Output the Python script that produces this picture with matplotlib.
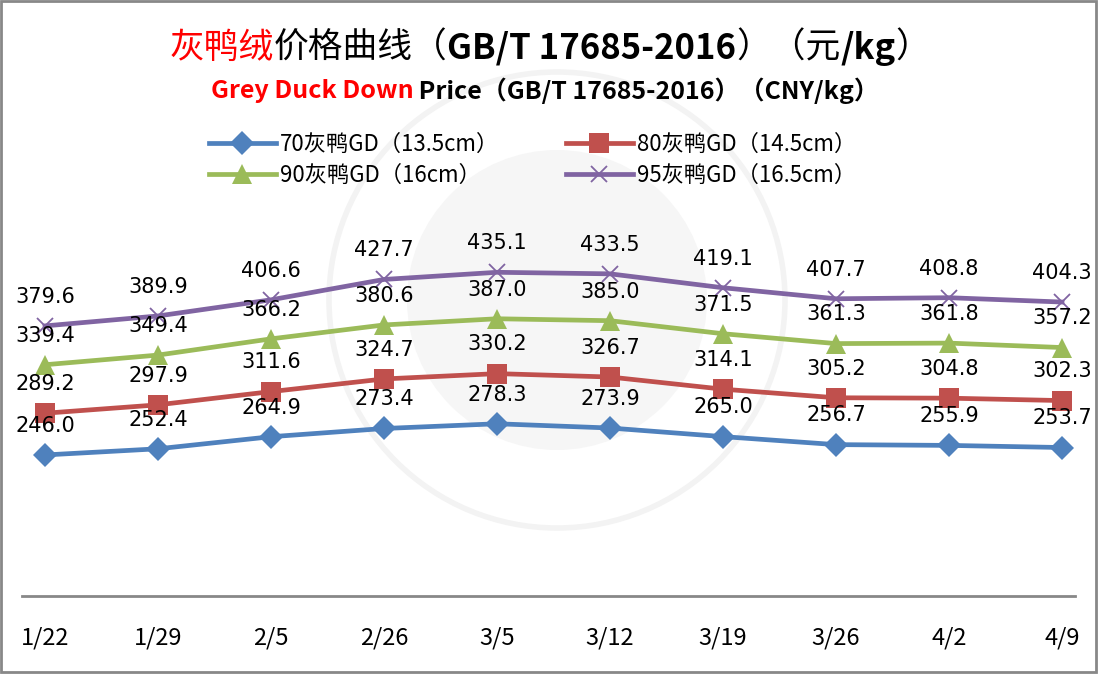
import numpy as np
import matplotlib.pyplot as plt
from matplotlib.patches import Circle, Rectangle

plt.rcParams['font.family'] = ['Noto Sans CJK SC', 'DejaVu Sans']

# 数据
dates = ['1/22', '1/29', '2/5', '2/26', '3/5', '3/12', '3/19', '3/26', '4/2', '4/9']
gd70 = [246.0, 252.4, 264.9, 273.4, 278.3, 273.9, 265.0, 256.7, 255.9, 253.7]
gd80 = [289.2, 297.9, 311.6, 324.7, 330.2, 326.7, 314.1, 305.2, 304.8, 302.3]
gd90 = [339.4, 349.4, 366.2, 380.6, 387.0, 385.0, 371.5, 361.3, 361.8, 357.2]
gd95 = [379.6, 389.9, 406.6, 427.7, 435.1, 433.5, 419.1, 407.7, 408.8, 404.3]
names = ['70灰鸭GD（13.5cm）', '80灰鸭GD（14.5cm）', '90灰鸭GD（16cm）', '95灰鸭GD（16.5cm）']

W, H = 1098, 674
fig = plt.figure(figsize=(W / 100, H / 100), dpi=100)

# 背景水印 (淡灰色圆)
bg = fig.add_axes([0, 0, 1, 1])
bg.set_xlim(0, W)
bg.set_ylim(H, 0)
bg.axis('off')
bg.add_patch(Circle((557, 300), 228, fill=False, ec='#f3f3f3', lw=4))
bg.add_patch(Circle((557, 300), 150, color='#f6f6f6', lw=0))
bg.add_patch(Rectangle((1, 1), W - 3, H - 3, fill=False, ec='#888888', lw=2))

x = np.arange(len(dates))
ax = fig.add_axes([22 / W, 1 - 596 / H, (1075 - 22) / W, (596 - 120) / H])
ax.patch.set_alpha(0)
x0, x9 = 45, 1062
ppu = (x9 - x0) / 9
ax.set_xlim(-(x0 - 22) / ppu, 9 + (1075 - x9) / ppu)
ax.set_ylim(100, 100 + (596 - 120) / 0.966)

styles = [('#4F81BD', 'D', 12), ('#C0504D', 's', 14), ('#9BBB59', '^', 14), ('#8064A2', 'x', 12)]
series = [gd70, gd80, gd90, gd95]
lines = []
for vals, (c, m, ms), name in zip(series, styles, names):
    ln, = ax.plot(x, vals, color=c, lw=3.4, marker=m, markersize=ms,
                  markeredgewidth=1.3 if m == 'x' else 0, label=name, zorder=3)
    lines.append(ln)
    for xi, v in zip(x, vals):
        ax.annotate(f'{v:.1f}', (xi, v), xytext=(0, 21), textcoords='offset points',
                    ha='center', va='center', fontsize=15, family='DejaVu Sans', zorder=4)

for s in ['top', 'right', 'left']:
    ax.spines[s].set_visible(False)
ax.spines['bottom'].set_color('#888888')
ax.spines['bottom'].set_linewidth(2)
ax.set_yticks([])
ax.set_xticks(x)
ax.set_xticklabels(dates, fontsize=17)
ax.tick_params(axis='x', length=0, pad=22)

# 图例: 按行排列
leg = fig.legend(handles=[lines[0], lines[2], lines[1], lines[3]], ncol=2,
                 loc='upper left', bbox_to_anchor=(198 / W, 1 - 122 / H),
                 frameon=False, fontsize=16, handlelength=3.0, columnspacing=3.0,
                 labelspacing=0.35, handletextpad=0.2, borderpad=0)

# 标题 (分段着色)
def colored_text(parts, xc, y, size):
    r = fig.canvas.get_renderer()
    texts = []
    for s, c, wt in parts:
        texts.append(fig.text(0, 1 - y / H, s, color=c, fontsize=size, weight=wt,
                              va='center', ha='left'))
    widths = [t.get_window_extent(r).width for t in texts]
    pos = xc - sum(widths) / 2
    for t, w in zip(texts, widths):
        t.set_x(pos / W)
        pos += w

colored_text([('灰鸭绒', '#ff0000', 'normal'), ('价格曲线（', 'black', 'normal'),
              ('GB/T 17685-2016', 'black', 'bold'), ('）（元', 'black', 'normal'),
              ('/kg', 'black', 'bold'), ('）', 'black', 'normal')],
             550, 48, 25)
colored_text([('Grey Duck Down', '#ff0000', 'bold'),
              (' Price（GB/T 17685-2016）（CNY/kg）', 'black', 'bold')],
             545, 91, 18)

fig.savefig('out.png', dpi=100)
